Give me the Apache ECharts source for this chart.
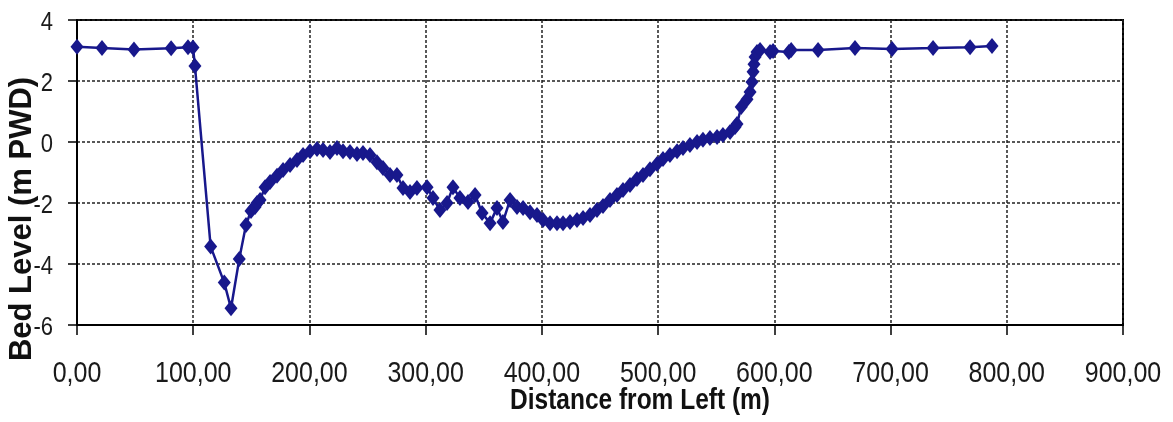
<!DOCTYPE html>
<html>
<head>
<meta charset="utf-8">
<style>
  html, body { margin: 0; padding: 0; background: #ffffff; }
  #chart { width: 1173px; height: 422px; }
</style>
<script src="https://cdn.jsdelivr.net/npm/echarts@6/dist/echarts.min.js"></script>
</head>
<body>
<div id="chart"></div>
<script>
// Cross-section survey: distance from left bank (m) and bed level (m PWD)
const distance = [
  0, 21.5, 49, 81, 95.5, 99.8, 101.5, 115, 126.7, 132.5, 139.6, 145.4, 149.7, 153.2,
  154.9, 157.5, 161.8, 166.1, 172.1, 177.3, 183.3, 189.3, 194.5, 200.5, 206.5, 211.7,
  217.7, 223.7, 228.9, 234.9, 240.9, 246.1, 252.1, 258.1, 263.3, 269.3, 275.3, 280.5,
  286.5, 292.5, 301.2, 306.3, 312.3, 318.4, 323.5, 329.5, 336.4, 342.5, 348.5, 355.4,
  361.4, 366.5, 372.6, 378.6, 383.8, 389.8, 395.8, 401, 407, 413, 418.2, 424.2, 430.2,
  435.4, 441.4, 447.4, 452.6, 458.6, 464.6, 469.8, 475.8, 481.8, 487, 493, 499.1, 504.2,
  510.2, 516.3, 521.4, 527.4, 533.5, 538.6, 544.6, 550.7, 555.8, 561.9, 566.2, 567.9,
  571.5, 576.5, 579.1, 580.8, 581.7, 582.5, 583.4, 585.1, 587.7, 596.3, 598.9, 612.5,
  614.5, 637.6, 669.4, 701.3, 736.6, 768.4, 787.3
];
const bedLevel = [
  3.12, 3.08, 3.03, 3.07, 3.11, 3.10, 2.49, -3.43, -4.61, -5.45, -3.84, -2.72, -2.26, -2.13,
  -2.0, -1.90, -1.48, -1.31, -1.11, -0.92, -0.75, -0.59, -0.43, -0.30, -0.23, -0.26,
  -0.33, -0.20, -0.30, -0.33, -0.39, -0.36, -0.43, -0.66, -0.85, -1.08, -1.08, -1.51,
  -1.64, -1.51, -1.48, -1.84, -2.23, -2.0, -1.48, -1.84, -1.97, -1.74, -2.33, -2.66,
  -2.16, -2.62, -1.90, -2.13, -2.16, -2.30, -2.39, -2.56, -2.66, -2.66, -2.66, -2.62, -2.56,
  -2.49, -2.39, -2.23, -2.10, -1.90, -1.74, -1.57, -1.41, -1.21, -1.08, -0.89, -0.72, -0.56,
  -0.43, -0.30, -0.20, -0.10, 0.0, 0.07, 0.13, 0.16, 0.23, 0.33, 0.49, 0.59,
  1.15, 1.40, 1.64, 1.97, 2.30, 2.55, 2.79, 2.95, 3.02, 2.95, 2.98, 2.95,
  3.02, 3.02, 3.08, 3.05, 3.08, 3.11, 3.15
];

// Axis ticks and titles
const xTicks = [0, 100, 200, 300, 400, 500, 600, 700, 800, 900];
const yTicks = [-6, -4, -2, 0, 2, 4];
const xTitle = 'Distance from Left (m)';
const yTitle = 'Bed Level (m PWD)';

const lineColor = '#18188c';
const sans = "'Liberation Sans', Arial, sans-serif";
const fmtX = v => v.toFixed(2).replace('.', ',');

const chart = echarts.init(document.getElementById('chart'), null, { renderer: 'canvas' });

const points = distance.map((d, i) => [d, bedLevel[i]]);
const dotted = { color: '#222222', width: 1.5, type: [3, 2] };

chart.setOption({
  animation: false,
  backgroundColor: '#ffffff',
  grid: {
    left: 77, right: 50, top: 20, bottom: 97,
    show: true, borderColor: '#000000', borderWidth: 2, backgroundColor: '#ffffff'
  },
  xAxis: {
    type: 'value',
    min: xTicks[0], max: xTicks[xTicks.length - 1], interval: xTicks[1] - xTicks[0],
    axisLine: { show: true, onZero: false, lineStyle: { color: '#000000', width: 2 } },
    axisTick: { show: true, inside: false, length: 10, lineStyle: { color: '#000000', width: 1.5 } },
    axisLabel: { show: false },
    splitLine: { show: true, lineStyle: dotted }
  },
  yAxis: {
    type: 'value',
    min: yTicks[0], max: yTicks[yTicks.length - 1], interval: yTicks[1] - yTicks[0],
    axisLine: { show: true, onZero: false, lineStyle: { color: '#000000', width: 2 } },
    axisTick: { show: true, inside: false, length: 9, lineStyle: { color: '#000000', width: 1.5 } },
    axisLabel: { show: false },
    splitLine: { show: true, lineStyle: dotted }
  },
  series: [{
    type: 'line',
    data: points,
    symbol: 'diamond',
    symbolSize: [13, 16],
    itemStyle: { color: lineColor },
    lineStyle: { color: lineColor, width: 2.5 },
    z: 5
  }]
});

// Tick labels and titles, placed through the axes' own scales (text is slightly tall)
const labels = [];
xTicks.forEach(v => {
  labels.push({
    type: 'text',
    x: chart.convertToPixel({ xAxisIndex: 0 }, v),
    y: 374,
    scaleY: 1.2,
    style: { text: fmtX(v), fill: '#1a1a1a', font: '25px ' + sans, align: 'center', verticalAlign: 'middle' }
  });
});
yTicks.forEach(v => {
  labels.push({
    type: 'text',
    x: 53,
    y: chart.convertToPixel({ yAxisIndex: 0 }, v) + 3,
    scaleY: 1.15,
    style: { text: String(v), fill: '#1a1a1a', font: '22px ' + sans, align: 'right', verticalAlign: 'middle' }
  });
});
labels.push({
  type: 'text', x: 640, y: 401, scaleY: 1.18,
  style: { text: xTitle, fill: '#111111', font: 'bold 24.5px ' + sans, align: 'center', verticalAlign: 'middle' }
});
labels.push({
  type: 'text', x: 22, y: 219, rotation: Math.PI / 2,
  style: { text: yTitle, fill: '#111111', font: 'bold 31px ' + sans, align: 'center', verticalAlign: 'middle' }
});

chart.setOption({ graphic: labels });
</script>
</body>
</html>
